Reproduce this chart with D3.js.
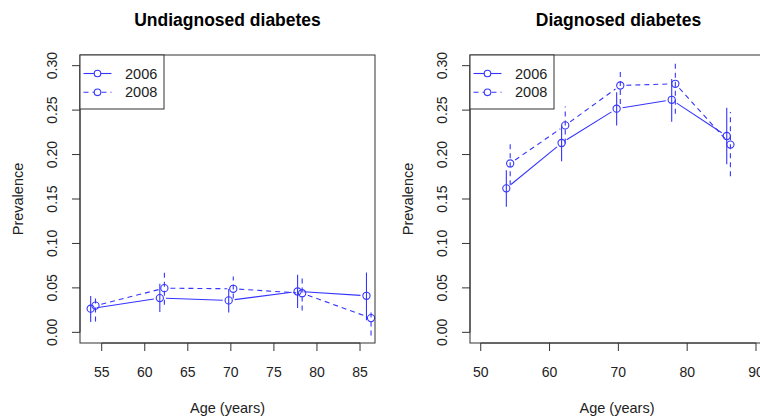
<!DOCTYPE html>
<html>
<head>
<meta charset="utf-8">
<script src="https://cdn.jsdelivr.net/npm/d3@7/dist/d3.min.js"></script>
<style>
  body { margin: 0; background: #fff; }
  text { font-family: "Liberation Sans", Arial, sans-serif; }
</style>
</head>
<body>
<div id="chart"></div>
<script>
// data
const years = ["2006", "2008"]
const age2006 = [53.72, 61.75, 69.75, 77.75, 85.75]
const age2008 = [54.28, 62.28, 70.28, 78.28, 86.28]

const undiag2006 = [0.0266, 0.0385, 0.0359, 0.0460, 0.0411]
const undiag2006Lo = [0.0117, 0.0229, 0.0224, 0.0273, 0.0135]
const undiag2006Hi = [0.0410, 0.0546, 0.0487, 0.0647, 0.0673]
const undiag2008 = [0.0300, 0.0497, 0.0490, 0.0440, 0.0160]
const undiag2008Lo = [0.0123, 0.0310, 0.0380, 0.0247, -0.0037]
const undiag2008Hi = [0.0423, 0.0684, 0.0628, 0.0628, 0.0260]

const diag2006 = [0.162, 0.213, 0.2516, 0.2616, 0.2209]
const diag2006Lo = [0.1413, 0.1925, 0.2328, 0.237, 0.189]
const diag2006Hi = [0.1824, 0.2328, 0.270, 0.285, 0.2527]
const diag2008 = [0.190, 0.2328, 0.2777, 0.2796, 0.2112]
const diag2008Lo = [0.1656, 0.2123, 0.257, 0.246, 0.1757]
const diag2008Hi = [0.2123, 0.254, 0.2953, 0.305, 0.2478]

const yTicks = [0, 0.05, 0.10, 0.15, 0.20, 0.25, 0.30]
const xTicksLeft = [55, 60, 65, 70, 75, 80, 85]
const xTicksRight = [50, 60, 70, 80, 90]

const width = 760
const height = 417
const col = "#3535ff"

const svg = d3.select("#chart").append("svg")
    .attr("width", width)
    .attr("height", height)

function series(ages, est, lo, hi) {
    return ages.map((a, i) => ({ age: a, est: est[i], lo: lo[i], hi: hi[i] }))
}

function drawPanel(opts) {
    const x = d3.scaleLinear().domain(opts.xDomain).range([opts.left, opts.right])
    const y = d3.scaleLinear().domain([-0.012, 0.312]).range([343, 55])
    const g = svg.append("g")

    // clip so the right panel runs off the page like the original
    g.append("text")
        .attr("x", (opts.left + opts.right) / 2)
        .attr("y", 26)
        .attr("text-anchor", "middle")
        .attr("font-weight", "bold")
        .attr("font-size", "17.5px")
        .text(opts.title)

    // y axis
    const yAxis = g.append("g")
    yAxis.append("line")
        .attr("x1", opts.left).attr("x2", opts.left)
        .attr("y1", y(0)).attr("y2", y(0.3))
        .attr("stroke", "#333")
    yTicks.forEach(t => {
        yAxis.append("line")
            .attr("x1", opts.left - 8).attr("x2", opts.left)
            .attr("y1", y(t)).attr("y2", y(t))
            .attr("stroke", "#333")
        yAxis.append("text")
            .attr("transform", "translate(" + (opts.left - 23) + "," + y(t) + ") rotate(-90)")
            .attr("text-anchor", "middle")
            .attr("font-size", "14px")
            .attr("fill", "#222")
            .text(d3.format(".2f")(t))
    })
    g.append("text")
        .attr("transform", "translate(" + (opts.left - 57) + "," + 199 + ") rotate(-90)")
        .attr("text-anchor", "middle")
        .attr("font-size", "14.5px")
        .attr("fill", "#222")
        .text("Prevalence")

    // x axis
    const xAxis = g.append("g")
    xAxis.append("line")
        .attr("x1", x(opts.xTicks[0])).attr("x2", x(opts.xTicks[opts.xTicks.length - 1]))
        .attr("y1", 343).attr("y2", 343)
        .attr("stroke", "#333")
    opts.xTicks.forEach(t => {
        xAxis.append("line")
            .attr("x1", x(t)).attr("x2", x(t))
            .attr("y1", 343).attr("y2", 351)
            .attr("stroke", "#333")
        xAxis.append("text")
            .attr("x", x(t)).attr("y", 377)
            .attr("text-anchor", "middle")
            .attr("font-size", "14px")
            .attr("fill", "#222")
            .text(t)
    })
    g.append("text")
        .attr("x", (opts.left + Math.min(opts.right, 760)) / 2 + (opts.right > 760 ? 2 : 0))
        .attr("y", 413)
        .attr("text-anchor", "middle")
        .attr("font-size", "14.5px")
        .attr("fill", "#222")
        .text("Age (years)")

    // series
    opts.series.forEach((s, k) => {
        const dash = k === 1 ? "5,4" : null
        const pts = s.map(d => [x(d.age), y(d.est)])
        // lines with gaps around the points (type = "b")
        for (let i = 0; i < pts.length - 1; i++) {
            const [x1, y1] = pts[i], [x2, y2] = pts[i + 1]
            const len = Math.hypot(x2 - x1, y2 - y1)
            const gap = 6
            if (len <= 2 * gap) continue
            const ux = (x2 - x1) / len, uy = (y2 - y1) / len
            g.append("line")
                .attr("x1", x1 + ux * gap).attr("y1", y1 + uy * gap)
                .attr("x2", x2 - ux * gap).attr("y2", y2 - uy * gap)
                .attr("stroke", col)
                .attr("stroke-width", 1.1)
                .attr("stroke-dasharray", dash)
        }
        g.selectAll(null).data(s).enter().append("line")
            .attr("x1", d => x(d.age)).attr("x2", d => x(d.age))
            .attr("y1", d => y(d.lo)).attr("y2", d => y(d.hi))
            .attr("stroke", col)
            .attr("stroke-width", 1.1)
            .attr("stroke-dasharray", dash)
        g.selectAll(null).data(s).enter().append("circle")
            .attr("cx", d => x(d.age)).attr("cy", d => y(d.est))
            .attr("r", 3.6)
            .attr("fill", "none")
            .attr("stroke", col)
            .attr("stroke-width", 1.1)
    })

    // box
    g.append("rect")
        .attr("x", opts.left).attr("y", 55)
        .attr("width", opts.right - opts.left).attr("height", 288)
        .attr("fill", "none")
        .attr("stroke", "#333")

    // legend
    const lg = g.append("g").attr("transform", "translate(" + opts.left + ",55)")
    lg.append("rect")
        .attr("x", 0).attr("y", 0)
        .attr("width", 84).attr("height", 54)
        .attr("fill", "#fff")
        .attr("stroke", "#333")
    years.forEach((yr, k) => {
        const ly = 18.5 + k * 18.8
        lg.append("line")
            .attr("x1", 3.5).attr("x2", 31.5)
            .attr("y1", ly).attr("y2", ly)
            .attr("stroke", col)
            .attr("stroke-width", 1.1)
            .attr("stroke-dasharray", k === 1 ? "5,4" : null)
        lg.append("circle")
            .attr("cx", 17.5).attr("cy", ly)
            .attr("r", 3.3)
            .attr("fill", "#fff")
            .attr("stroke", col)
            .attr("stroke-width", 1.1)
        lg.append("text")
            .attr("x", 45).attr("y", ly + 5)
            .attr("font-size", "14.5px")
            .attr("fill", "#222")
            .text(yr)
    })
}

drawPanel({
    title: "Undiagnosed diabetes",
    left: 80, right: 375,
    xDomain: [52.48, 86.74],
    xTicks: xTicksLeft,
    series: [
        series(age2006, undiag2006, undiag2006Lo, undiag2006Hi),
        series(age2008, undiag2008, undiag2008Lo, undiag2008Hi)
    ]
})

drawPanel({
    title: "Diagnosed diabetes",
    left: 470, right: 767,
    xDomain: [48.44, 91.6],
    xTicks: xTicksRight,
    series: [
        series(age2006, diag2006, diag2006Lo, diag2006Hi),
        series(age2008, diag2008, diag2008Lo, diag2008Hi)
    ]
})
</script>
</body>
</html>
